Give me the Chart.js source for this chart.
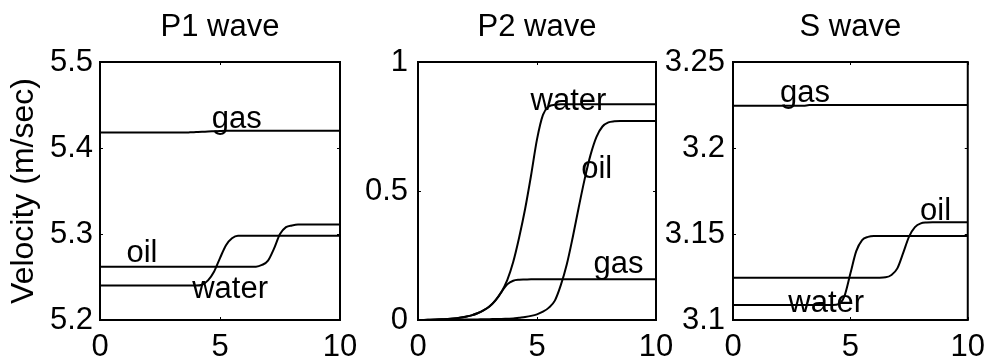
<!DOCTYPE html>
<html>
<head>
<meta charset="utf-8">
<script src="https://cdn.jsdelivr.net/npm/chart.js@4.4.1/dist/chart.umd.min.js"></script>
<style>
  html, body { margin: 0; padding: 0; background: #fff; }
  #wrap { position: relative; width: 994px; height: 362px; }
  canvas { position: absolute; left: 0; top: 0; }
</style>
</head>
<body>
<div id="wrap">
  <canvas id="c1" width="994" height="362"></canvas>
  <canvas id="c2" width="994" height="362"></canvas>
  <canvas id="c3" width="994" height="362"></canvas>
</div>
<script>
// ---------- DATA ----------
const xValues = [0,0.25,0.5,0.75,1,1.25,1.5,1.75,2,2.25,2.5,2.75,3,3.25,3.5,3.75,4,4.25,4.5,4.75,5,5.25,5.5,5.75,6,6.25,6.5,6.75,7,7.25,7.5,7.75,8,8.25,8.5,8.75,9,9.25,9.5,9.75,10];
const xTicks = [0, 5, 10];
const xTickLabels = ['0', '5', '10'];

// P1 wave
const p1Gas   = [5.418,5.418,5.418,5.418,5.418,5.418,5.418,5.418,5.418,5.418,5.418,5.418,5.418,5.418,5.418,5.4182,5.4185,5.4188,5.4192,5.4195,5.4198,5.420,5.420,5.420,5.420,5.420,5.420,5.420,5.420,5.420,5.420,5.420,5.420,5.420,5.420,5.420,5.420,5.420,5.420,5.420,5.420];
const p1Oil   = [5.262,5.262,5.262,5.262,5.262,5.262,5.262,5.262,5.262,5.262,5.262,5.262,5.262,5.262,5.262,5.262,5.262,5.262,5.262,5.262,5.262,5.262,5.262,5.262,5.262,5.262,5.262,5.264,5.269,5.283,5.300,5.308,5.310,5.311,5.311,5.311,5.311,5.311,5.311,5.311,5.311];
const p1Water = [5.240,5.240,5.240,5.240,5.240,5.240,5.240,5.240,5.240,5.240,5.240,5.240,5.240,5.240,5.240,5.240,5.240,5.241,5.246,5.256,5.272,5.287,5.295,5.298,5.298,5.298,5.298,5.298,5.298,5.298,5.298,5.298,5.298,5.298,5.298,5.298,5.298,5.298,5.298,5.298,5.298];
const p1YTicks = [5.2, 5.3, 5.4, 5.5];
const p1YTickLabels = ['5.2', '5.3', '5.4', '5.5'];

// P2 wave
const p2Water = [0,0,0.001,0.002,0.003,0.004,0.006,0.009,0.013,0.018,0.026,0.037,0.052,0.075,0.108,0.155,0.225,0.320,0.430,0.560,0.700,0.795,0.828,0.834,0.836,0.836,0.836,0.836,0.836,0.836,0.836,0.836,0.836,0.836,0.836,0.836,0.836,0.836,0.836,0.836,0.836];
const p2Oil   = [0,0,0,0,0.001,0.001,0.001,0.001,0.002,0.002,0.002,0.003,0.003,0.004,0.004,0.005,0.006,0.009,0.012,0.016,0.022,0.032,0.048,0.075,0.135,0.215,0.320,0.435,0.545,0.640,0.710,0.750,0.766,0.770,0.771,0.771,0.771,0.771,0.771,0.771,0.771];
const p2Gas   = [0,0,0.001,0.002,0.003,0.004,0.006,0.009,0.013,0.018,0.026,0.037,0.052,0.076,0.108,0.138,0.152,0.156,0.157,0.158,0.158,0.158,0.158,0.158,0.158,0.158,0.158,0.158,0.158,0.158,0.158,0.158,0.158,0.158,0.158,0.158,0.158,0.158,0.158,0.158,0.158];
const p2YTicks = [0, 0.5, 1];
const p2YTickLabels = ['0', '0.5', '1'];

// S wave
const sGas   = [3.2245,3.2245,3.2245,3.2245,3.2245,3.2245,3.2245,3.2245,3.2245,3.2245,3.2245,3.2245,3.2245,3.225,3.225,3.225,3.225,3.225,3.225,3.225,3.225,3.225,3.225,3.225,3.225,3.225,3.225,3.225,3.225,3.225,3.225,3.225,3.225,3.225,3.225,3.225,3.225,3.225,3.225,3.225,3.225];
const sOil   = [3.1246,3.1246,3.1246,3.1246,3.1246,3.1246,3.1246,3.1246,3.1246,3.1246,3.1246,3.1246,3.1246,3.1246,3.1246,3.1246,3.1246,3.1246,3.1246,3.1246,3.1246,3.1246,3.1246,3.1246,3.1246,3.1246,3.1248,3.1262,3.1300,3.1390,3.1485,3.1540,3.1562,3.1567,3.1568,3.1568,3.1568,3.1568,3.1568,3.1568,3.1568];
const sWater = [3.1087,3.1087,3.1087,3.1087,3.1087,3.1087,3.1087,3.1087,3.1087,3.1087,3.1087,3.1087,3.1087,3.1087,3.1087,3.1087,3.1087,3.1087,3.1092,3.1140,3.1270,3.1400,3.1465,3.1483,3.1488,3.1488,3.1488,3.1488,3.1488,3.1488,3.1488,3.1488,3.1488,3.1488,3.1488,3.1488,3.1488,3.1488,3.1488,3.1488,3.1488];
const sYTicks = [3.1, 3.15, 3.2, 3.25];
const sYTickLabels = ['3.1', '3.15', '3.2', '3.25'];

const panelTitles = ['P1 wave', 'P2 wave', 'S wave'];
const yAxisTitle = 'Velocity (m/sec)';

// ---------- RENDERING ----------
Chart.defaults.font.family = '"Liberation Sans", Arial, Helvetica, sans-serif';
Chart.defaults.color = '#000';
const FS = 31;

const framePlugin = {
  id: 'frame',
  afterDatasetsDraw(chart) {
    const a = chart.chartArea, ctx = chart.ctx, xs = chart.scales.x, ys = chart.scales.y;
    ctx.save();
    ctx.strokeStyle = '#000';
    // small inward tick marks on all four sides
    ctx.lineWidth = 1;
    ctx.beginPath();
    xs.ticks.forEach(t => {
      const px = Math.round(xs.getPixelForValue(t.value)) + 0.5;
      ctx.moveTo(px, a.bottom); ctx.lineTo(px, a.bottom - 3);
      ctx.moveTo(px, a.top); ctx.lineTo(px, a.top + 3);
    });
    ys.ticks.forEach(t => {
      const py = Math.round(ys.getPixelForValue(t.value)) + 0.5;
      ctx.moveTo(a.left, py); ctx.lineTo(a.left + 3, py);
      ctx.moveTo(a.right, py); ctx.lineTo(a.right - 3, py);
    });
    ctx.stroke();
    ctx.lineWidth = 2;
    ctx.strokeRect(a.left, a.top, a.right - a.left, a.bottom - a.top);
    ctx.restore();
  }
};

const textLabelPlugin = {
  id: 'textLabels',
  afterDraw(chart, args, opts) {
    const ctx = chart.ctx, xs = chart.scales.x, ys = chart.scales.y;
    ctx.save();
    ctx.fillStyle = '#000';
    ctx.font = FS + 'px "Liberation Sans", Arial, sans-serif';
    ctx.textAlign = 'center';
    ctx.textBaseline = 'alphabetic';
    (opts.items || []).forEach(it => {
      ctx.fillText(it.text, xs.getPixelForValue(it.x), ys.getPixelForValue(it.y));
    });
    ctx.restore();
  }
};

function pts(vals) { return vals.map((v, i) => ({ x: xValues[i], y: v })); }
function lbl(ticks, labels) {
  return v => { const i = ticks.findIndex(t => Math.abs(t - v) < 1e-9); return i >= 0 ? labels[i] : ''; };
}

function makeChart(id, cfg) {
  return new Chart(document.getElementById(id), {
    type: 'line',
    data: {
      datasets: cfg.series.map(s => ({
        label: s.name, data: pts(s.values),
        borderColor: '#000', borderWidth: 2, pointRadius: 0,
        fill: false, cubicInterpolationMode: 'monotone'
      }))
    },
    options: {
      responsive: false, animation: false, devicePixelRatio: 1,
      layout: { padding: { left: cfg.padLeft, right: cfg.padRight, top: 0, bottom: 0 } },
      plugins: {
        legend: { display: false }, tooltip: { enabled: false },
        title: { display: true, text: cfg.title, fullSize: false,
                 font: { size: FS, weight: 'normal', lineHeight: 1.2 }, color: '#000',
                 padding: { top: 8.5, bottom: 16.3 } },
        textLabels: { items: cfg.labels }
      },
      scales: {
        x: {
          type: 'linear', min: 0, max: 10,
          afterBuildTicks: ax => { ax.ticks = xTicks.map(v => ({ value: v })); },
          afterFit: ax => { ax.height = 42; },
          grid: { display: false, drawTicks: false }, border: { display: false },
          ticks: { autoSkip: false, maxRotation: 0, padding: 9, font: { size: FS }, color: '#000',
                   callback: lbl(xTicks, xTickLabels) }
        },
        y: {
          type: 'linear', min: cfg.yTicks[0], max: cfg.yTicks[cfg.yTicks.length - 1],
          afterBuildTicks: ax => { ax.ticks = cfg.yTicks.map(v => ({ value: v })); },
          afterFit: ax => { ax.width = cfg.yWidth; },
          grid: { display: false, drawTicks: false }, border: { display: false },
          ticks: { autoSkip: false, padding: cfg.yPad, font: { size: FS }, color: '#000',
                   callback: lbl(cfg.yTicks, cfg.yLabels) },
          title: { display: !!cfg.yTitle, text: cfg.yTitle || '', font: { size: 32, lineHeight: 1.2 }, color: '#000',
                   padding: { top: 5, bottom: 0 } }
        }
      }
    },
    plugins: [framePlugin, textLabelPlugin]
  });
}

makeChart('c1', {
  title: panelTitles[0], padLeft: 0, padRight: 654, yWidth: 100, yPad: 7, yTitle: yAxisTitle,
  yTicks: p1YTicks, yLabels: p1YTickLabels,
  series: [{ name: 'gas', values: p1Gas }, { name: 'oil', values: p1Oil }, { name: 'water', values: p1Water }],
  labels: [{ text: 'gas', x: 5.7, y: 5.4229 }, { text: 'oil', x: 1.75, y: 5.2678 }, { text: 'water', x: 5.42, y: 5.2252 }]
});
makeChart('c2', {
  title: panelTitles[1], padLeft: 358, padRight: 338, yWidth: 60, yPad: 10,
  yTicks: p2YTicks, yLabels: p2YTickLabels,
  series: [{ name: 'water', values: p2Water }, { name: 'oil', values: p2Oil }, { name: 'gas', values: p2Gas }],
  labels: [{ text: 'water', x: 6.32, y: 0.814 }, { text: 'oil', x: 7.51, y: 0.549 }, { text: 'gas', x: 8.42, y: 0.181 }]
});
makeChart('c3', {
  title: panelTitles[2], padLeft: 663, padRight: 21, yWidth: 70, yPad: 8,
  yTicks: sYTicks, yLabels: sYTickLabels,
  series: [{ name: 'gas', values: sGas }, { name: 'oil', values: sOil }, { name: 'water', values: sWater }],
  labels: [{ text: 'gas', x: 3.07, y: 3.2269 }, { text: 'oil', x: 8.63, y: 3.1581 }, { text: 'water', x: 3.97, y: 3.1048 }]
});
</script>
</body>
</html>
